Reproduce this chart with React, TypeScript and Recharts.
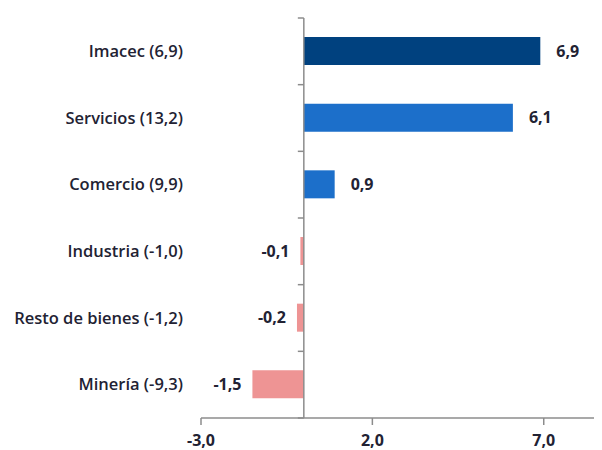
import React from 'react';
import { BarChart, Bar, XAxis, YAxis, Cell, LabelList, ReferenceLine } from 'recharts';

const categories = ['Imacec (6,9)', 'Servicios (13,2)', 'Comercio (9,9)', 'Industria (-1,0)', 'Resto de bienes (-1,2)', 'Minería (-9,3)'];
const values = [6.9, 6.1, 0.9, -0.1, -0.2, -1.5];
const barColors = ['#00417F', '#1C6FCA', '#1C6FCA', '#EE9494', '#EE9494', '#EE9494'];
const xTicks = [-3, 2, 7];

const data = categories.map((name, i) => ({ name, value: values[i], color: barColors[i] }));

const FONT = '"Open Sans", Lato, sans-serif';
const TEXT = '#222233';
const AXIS = '#8c8c8c';

const fmt = (v: number) => v.toFixed(1).replace('.', ',');

const CategoryTick = (props: any) => {
  const { x, y, payload } = props;
  return (
    <text x={x} y={y} dy="0.35em" textAnchor="end" fontFamily={FONT} fontWeight={600} fontSize={16.5} fill={TEXT}>
      {payload.value}
    </text>
  );
};

const ValueLabel = (props: any) => {
  const { x, y, width, height, value } = props;
  const left = Math.min(x, x + width);
  const right = Math.max(x, x + width);
  const cy = y + height / 2;
  const pos = value >= 0;
  return (
    <text
      x={pos ? right + 16 : left - 11}
      y={cy}
      dy="0.35em"
      textAnchor={pos ? 'start' : 'end'}
      fontFamily={FONT}
      fontWeight={700}
      fontSize={16}
      fill={TEXT}
    >
      {fmt(value)}
    </text>
  );
};

const ZeroAxis = (props: any) => {
  const { x1, y1, x2, y2 } = props;
  const n = categories.length;
  const marks = [];
  for (let i = 0; i <= n; i++) {
    const yy = y1 + ((y2 - y1) * i) / n;
    marks.push(<line key={i} x1={x1 - 6} y1={yy} x2={x1} y2={yy} stroke={AXIS} strokeWidth={1.5} />);
  }
  return (
    <g>
      <line x1={x1} y1={y1} x2={x2} y2={y2} stroke={AXIS} strokeWidth={1.5} />
      {marks}
    </g>
  );
};

export default function App() {
  return (
    <BarChart
      width={594}
      height={442}
      data={data}
      layout="vertical"
      margin={{ top: 10, right: 0, bottom: 0, left: 0 }}
    >
      <XAxis
        type="number"
        domain={[-3, 8.7]}
        ticks={xTicks}
        tickFormatter={fmt}
        allowDataOverflow
        height={32}
        stroke={AXIS}
        axisLine={{ stroke: AXIS, strokeWidth: 1.5 }}
        tickLine={{ stroke: AXIS, strokeWidth: 1.5 }}
        tickSize={7}
        tickMargin={10}
        tick={{ fontFamily: FONT, fontWeight: 700, fontSize: 16, fill: TEXT }}
      />
      <YAxis
        type="category"
        dataKey="name"
        width={193}
        axisLine={false}
        tickLine={false}
        tickSize={0}
        tickMargin={18}
        interval={0}
        tick={<CategoryTick />}
      />
      <ReferenceLine x={0} shape={<ZeroAxis />} />
      <Bar dataKey="value" barSize={28} isAnimationActive={false}>
        {data.map((d, i) => (
          <Cell key={i} fill={d.color} />
        ))}
        <LabelList dataKey="value" content={<ValueLabel />} />
      </Bar>
    </BarChart>
  );
}
